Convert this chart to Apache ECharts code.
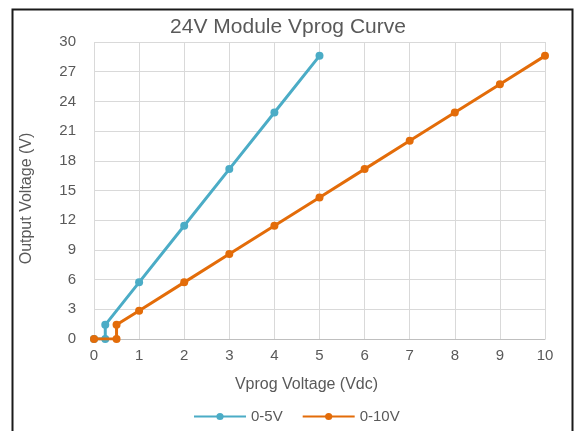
<!DOCTYPE html>
<html><head><meta charset="utf-8">
<script src="https://cdn.jsdelivr.net/npm/echarts@6/dist/echarts.min.js"></script>
<style>html,body{margin:0;padding:0;background:#fff}#c{width:576px;height:431px}</style>
</head><body><div id="c"></div>
<script>
const title = '24V Module Vprog Curve';
const xName = 'Vprog Voltage (Vdc)';
const yName = 'Output Voltage (V)';
const s1Name = '0-5V';
const s1X = [0, 0.25, 0.25, 1, 2, 3, 4, 5];
const s1Y = [0, 0, 1.43, 5.72, 11.44, 17.16, 22.88, 28.6];
const s2Name = '0-10V';
const s2X = [0, 0.5, 0.5, 1, 2, 3, 4, 5, 6, 7, 8, 9, 10];
const s2Y = [0, 0, 1.43, 2.86, 5.72, 8.58, 11.44, 14.3, 17.16, 20.02, 22.88, 25.74, 28.6];

const zip = (xs, ys) => xs.map((x, i) => [x, ys[i]]);
const font = 'Liberation Sans, Arial, sans-serif';
const grey = '#595959';
const chart = echarts.init(document.getElementById('c'), null, {renderer: 'canvas'});
chart.setOption({
  animation: false,
  backgroundColor: '#fff',
  title: {text: title, left: 'center', top: 17, padding: [0, 0, 0, 0], textStyle: {fontFamily: font, fontSize: 21, fontWeight: 'normal', color: grey}},
  grid: {left: 94, right: 31, top: 42, bottom: 92},
  xAxis: {
    type: 'value', min: 0, max: 10, interval: 1,
    name: xName, nameLocation: 'middle', nameGap: 38,
    nameTextStyle: {fontFamily: font, fontSize: 16, color: grey, padding: [0, 26, 0, 0]},
    axisLine: {show: true, lineStyle: {color: '#bfbfbf', width: 1}},
    axisTick: {show: false},
    axisLabel: {fontFamily: font, fontSize: 15, color: grey, margin: 9},
    splitLine: {show: true, lineStyle: {color: '#d9d9d9', width: 1}}
  },
  yAxis: {
    type: 'value', min: 0, max: 30, interval: 3,
    name: yName, nameLocation: 'middle', nameGap: 59, nameRotate: 90,
    nameTextStyle: {fontFamily: font, fontSize: 16, color: grey, padding: [0, 16, 0, 0]},
    axisLine: {show: false},
    axisTick: {show: false},
    axisLabel: {fontFamily: font, fontSize: 15, color: grey, margin: 18},
    splitLine: {show: true, lineStyle: {color: '#d9d9d9', width: 1}}
  },
  legend: {
    left: 188, top: 404, itemWidth: 52, itemHeight: 9, itemGap: 19,
    textStyle: {fontFamily: font, fontSize: 15, color: grey},
    data: [s1Name, s2Name]
  },
  graphic: [{type: 'rect', left: 10, top: 7, shape: {width: 560, height: 440}, style: {fill: 'none', stroke: '#1a1a1a', lineWidth: 2}, silent: true, z: 100}],
  series: [
    {name: s1Name, type: 'line', data: zip(s1X, s1Y), symbol: 'circle', symbolSize: 8,
     itemStyle: {color: '#4bacc6'}, lineStyle: {color: '#4bacc6', width: 3}, z: 2},
    {name: s2Name, type: 'line', data: zip(s2X, s2Y), symbol: 'circle', symbolSize: 8,
     itemStyle: {color: '#e36c09'}, lineStyle: {color: '#e36c09', width: 3}, z: 3}
  ]
});
</script></body></html>
